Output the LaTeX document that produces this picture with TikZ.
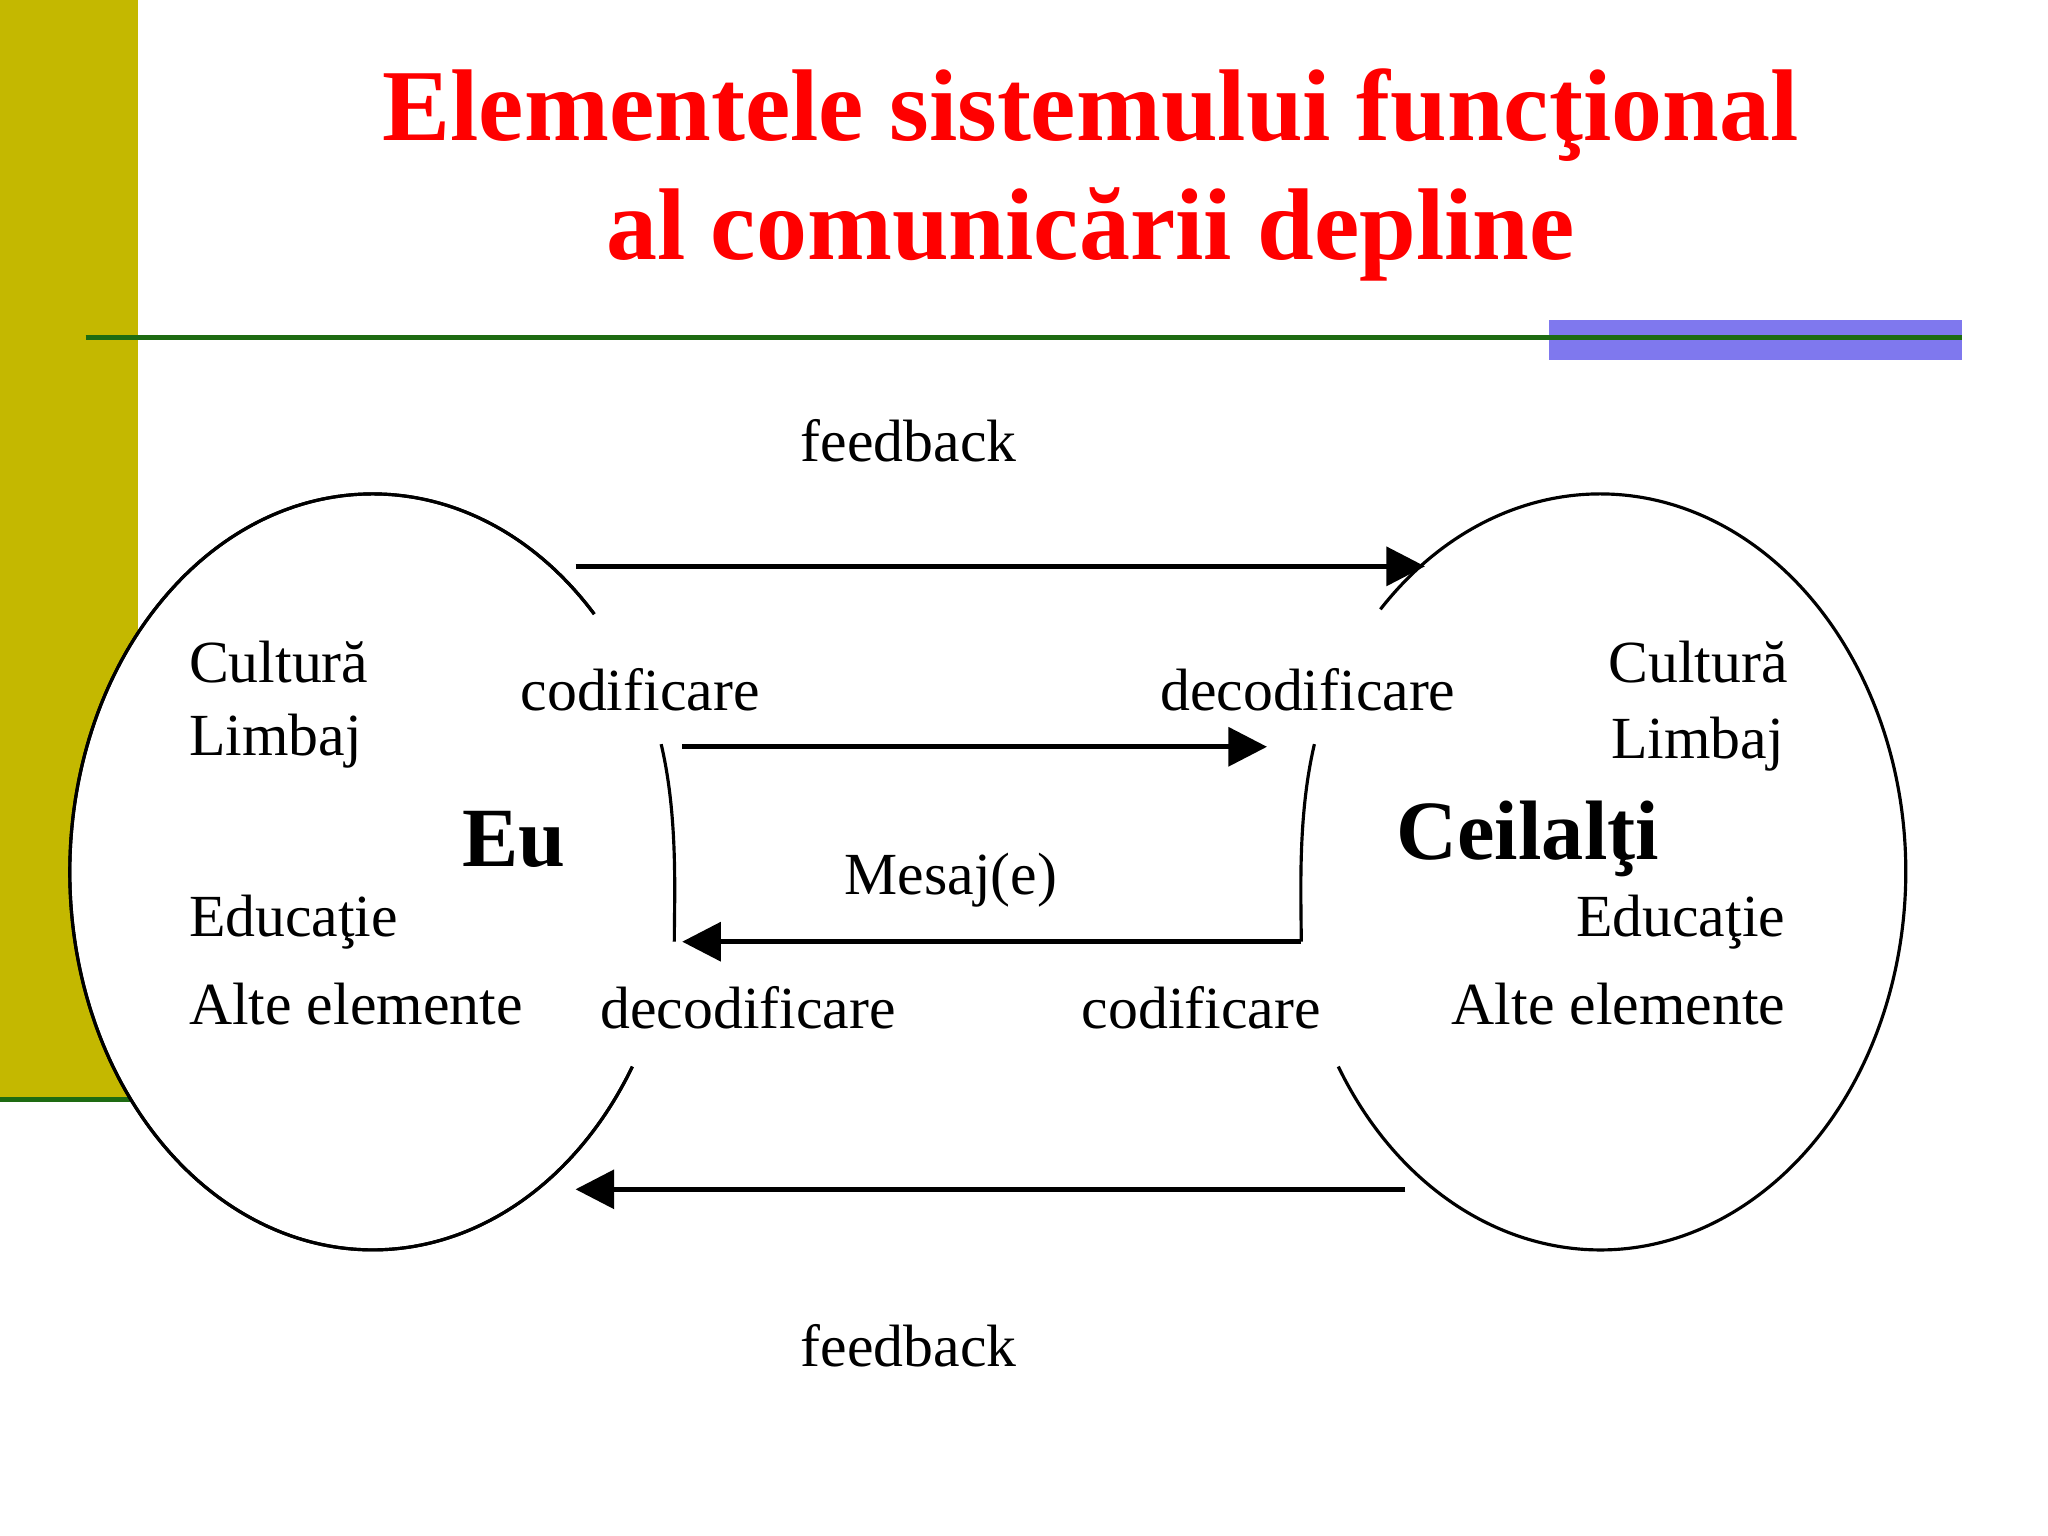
\documentclass[tikz,border=0pt]{standalone}
\usepackage{fontspec}
\setmainfont{Liberation Serif}
\usetikzlibrary{arrows.meta}
\definecolor{olivebar}{HTML}{C4B800}
\definecolor{linegreen}{HTML}{1E6B12}
\definecolor{violetbar}{HTML}{7F78EE}
\tikzset{
  lbl/.style={font=\fontsize{17}{20}\selectfont, inner sep=0pt},
  big/.style={font=\fontsize{24}{28}\selectfont\bfseries, inner sep=0pt},
  arr/.style={line width=1.3pt, -{Triangle[length=11pt,width=11pt]}},
  edge/.style={line width=0.9pt},
}
\begin{document}
\begin{tikzpicture}[x=0.01317cm,y=-0.01317cm]
\useasboundingbox (0,0) rectangle (1555,1166);
\fill[white] (0,0) rectangle (1555,1166);
\fill[olivebar] (0,0) rectangle (105,835);
\draw[linegreen, line width=1.5pt] (0,835) -- (105,835);
\fill[violetbar] (1176,243) rectangle (1490,273);
\draw[linegreen, line width=1.5pt] (65,256) -- (1490,256);
\node[text=red, font=\fontsize{29}{34}\selectfont\bfseries, align=center] (title) at (828,133)
  {Elementele sistemului funcţional\\al comunicării depline};
% ellipses
\coordinate (Lc) at (283,662);
\coordinate (Rc) at (1215,662);
\draw[edge, fill=white] ([shift={(-43:230 and 287)}]Lc) arc[start angle=-43, end angle=-329, x radius=230, y radius=287];
\draw[edge] ([shift={(-43:230 and 287)}]Lc) arc[start angle=-43, end angle=-329, x radius=230, y radius=287];
\draw[edge] ([shift={(149:232 and 287)}]Rc) arc[start angle=149, end angle=-136, x radius=232, y radius=287];
% brackets
\draw[edge] (502,565) .. controls (515,620) and (512,680) .. (512,715);
\draw[edge] (998,565) .. controls (985,620) and (988,680) .. (988,715);
% arrows
\coordinate (f1a) at (437,430); \coordinate (f1b) at (1082,430);
\coordinate (m1a) at (518,567); \coordinate (m1b) at (962,567);
\coordinate (m2a) at (988,715); \coordinate (m2b) at (518,715);
\coordinate (f2a) at (1067,903); \coordinate (f2b) at (437,903);
\draw[arr] (f1a) -- (f1b);
\draw[arr] (m1a) -- (m1b);
\draw[arr] (m2a) -- (m2b);
\draw[arr] (f2a) -- (f2b);
% labels
\node[lbl] (fb1) at (690,335) {feedback};
\node[lbl] (fb2) at (690,1022) {feedback};
\node[lbl] (cod1) at (486,524) {codificare};
\node[lbl] (dec1) at (993,524) {decodificare};
\node[lbl] (msg) at (722,668) {Mesaj(e)};
\node[lbl] (dec2) at (568,765) {decodificare};
\node[lbl] (cod2) at (912,765) {codificare};
\node[lbl, anchor=west] (lc) at (143,503) {Cultură};
\node[lbl, anchor=west] (ll) at (143,563) {Limbaj};
\node[lbl, anchor=west] (le) at (143,700) {Educaţie};
\node[lbl, anchor=west] (la) at (143,762) {Alte elemente};
\node[big] (eu) at (390,637) {Eu};
\node[lbl, anchor=east] (rc) at (1358,503) {Cultură};
\node[lbl, anchor=east] (rl) at (1355,565) {Limbaj};
\node[lbl, anchor=east] (re) at (1356,700) {Educaţie};
\node[lbl, anchor=east] (ra) at (1356,762) {Alte elemente};
\node[big] (ceil) at (1160,637) {Ceilalţi};
\end{tikzpicture}
\end{document}
